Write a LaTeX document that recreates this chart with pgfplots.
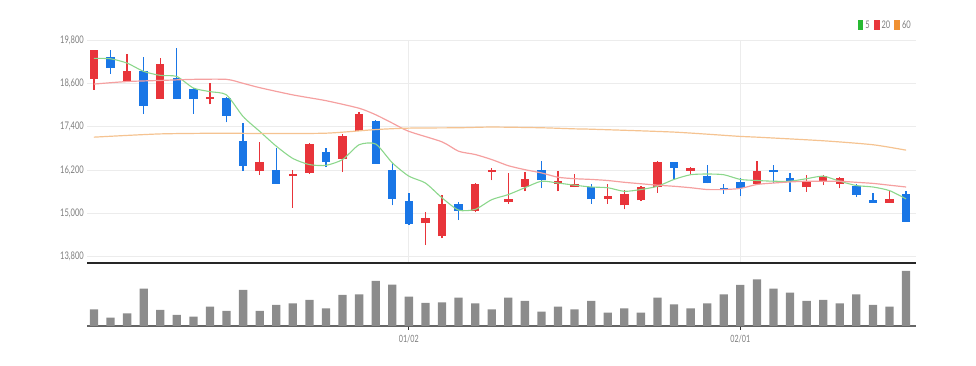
\documentclass[border=0pt]{standalone}
\usepackage{pgfplots}
\usepackage{pgfplotstable}
\pgfplotsset{compat=1.18}
\usepackage{fontspec}
\setmainfont{Lato}
\newfontfamily\labfont[FakeStretch=0.72]{Lato}
\definecolor{upred}{RGB}{232,52,58}
\definecolor{dnblue}{RGB}{25,118,230}
\definecolor{mafive}{RGB}{140,215,140}
\definecolor{matwenty}{RGB}{245,160,160}
\definecolor{masixty}{RGB}{245,195,145}
\definecolor{legfive}{RGB}{40,185,50}
\definecolor{legtwenty}{RGB}{232,55,60}
\definecolor{legsixty}{RGB}{240,145,50}
\definecolor{vol}{RGB}{140,140,140}
\definecolor{ticktxt}{RGB}{125,125,125}
\definecolor{gridc}{RGB}{236,236,236}

\pgfplotstableread{
x o h l c
0 18720 19510 18420 19510
2 18670 19410 18670 18950
4 18160 19290 18160 19140
7 18160 18600 18020 18220
10 16170 16970 16060 16410
12 16030 16210 15150 16100
13 16120 16950 16090 16920
15 16510 17200 16140 17130
16 17270 17800 17270 17760
20 14720 15030 14120 14880
21 14370 15520 14310 15250
23 15060 15840 15030 15800
24 16150 16260 15910 16190
25 15310 16120 15270 15390
26 15730 16150 15610 15960
28 15820 16180 15610 15890
29 15730 16090 15730 15800
31 15410 15800 15270 15470
32 15220 15660 15110 15550
33 15360 15770 15340 15720
34 15720 16440 15570 16420
36 16180 16280 16070 16260
40 15820 16440 15820 16170
43 15720 16070 15600 15860
44 15870 16070 15780 16030
45 15820 16000 15690 15980
48 15290 15660 15290 15390
}\upcandles

\pgfplotstableread{
x o h l c
1 19340 19520 18860 19020
3 18950 19340 17750 17980
5 18740 19570 18160 18160
6 18450 18470 17760 18160
8 18190 18210 17520 17700
9 16990 17500 16170 16320
11 16190 16810 15820 15820
14 16700 16810 16280 16420
17 17550 17590 16380 16380
18 16190 16400 15220 15410
19 15340 15570 14690 14710
22 15250 15310 14810 15060
27 16190 16440 15690 15920
30 15720 15800 15270 15390
35 16420 16420 15940 16260
37 16030 16350 15830 15830
38 15680 15800 15540 15640
39 15870 15980 15480 15710
41 16180 16350 15830 16140
42 15980 16120 15600 15860
46 15750 15800 15450 15520
47 15360 15570 15290 15290
49 15540 15610 14770 14770
}\dncandles

\pgfplotstableread{
x v
0 16.7
1 8.3
2 12.7
3 37.3
4 16
5 11
6 9.3
7 19.3
8 15
9 36
10 15
11 21
12 22.7
13 26
14 17.7
15 31
16 31.7
17 45
18 41.3
19 29.3
20 23
21 23.7
22 28.3
23 22.7
24 16.7
25 28.3
26 25
27 14.3
28 19.3
29 16.7
30 25
31 13.3
32 17.7
33 13.3
34 28.3
35 21.7
36 17.7
37 22.7
38 31.7
39 41
40 46.7
41 37.3
42 33.3
43 25
44 26
45 22.7
46 31.7
47 21
48 19.3
49 55
}\volume

\pgfplotstableread{
x y
0 19290
1 19280
2 19160
3 18930
4 18820
5 18790
6 18470
7 18370
8 18280
9 17680
10 17270
11 16860
12 16520
13 16350
14 16330
15 16490
16 16900
17 16920
18 16400
19 16030
20 15840
21 15430
22 15090
23 15110
24 15380
25 15520
26 15710
27 15890
28 15840
29 15780
30 15730
31 15710
32 15610
33 15660
34 15750
35 15940
36 16070
37 16090
38 16070
39 15940
40 15910
41 15890
42 15890
43 15960
44 16030
45 15890
46 15770
47 15730
48 15630
49 15400
}\mafivetab

\pgfplotstableread{
x y
0 18580
2 18650
4 18680
6 18710
8 18710
9 18600
10 18480
12 18280
14 18120
16 17910
17 17730
18 17500
19 17270
21 16980
22 16720
23 16630
24 16490
25 16320
26 16210
27 16120
28 16000
29 15960
30 15940
31 15910
32 15860
33 15820
34 15780
35 15750
36 15710
37 15660
38 15660
39 15690
40 15800
41 15840
42 15870
43 15890
44 15890
45 15890
46 15860
47 15830
48 15780
49 15730
}\matwentytab

\pgfplotstableread{
x y
0 17110
4 17200
8 17220
10 17210
14 17220
17 17320
19 17360
22 17370
24 17390
27 17370
29 17340
30 17330
35 17250
39 17130
40 17110
44 17010
47 16900
49 16750
}\masixtytab

\begin{document}
\begin{tikzpicture}
\useasboundingbox (0pt,0pt) rectangle (976pt,366pt);
\begin{axis}[
  at={(87pt,103pt)}, anchor=south west,
  scale only axis, width=829pt, height=223pt,
  xmin=-0.42, xmax=49.6,
  ymin=13626, ymax=19800,
  clip=false,
  scaled y ticks=false,
  axis x line*=bottom, axis y line*=left,
  x axis line style={-, line width=1.6pt, black!85},
  y axis line style={draw=none},
  xtick={19,39}, xticklabels={},
  ytick={13800,15000,16200,17400,18600,19800},
  yticklabels={{13,800},{15,000},{16,200},{17,400},{18,600},{19,800}},
  major tick length=0pt,
  xmajorgrids, ymajorgrids,
  grid style={gridc, line width=0.9pt},
  yticklabel style={font=\labfont\fontsize{10.5}{12}\selectfont, text=ticktxt, anchor=east, inner sep=0pt, xshift=-3pt},
  legend columns=3,
  legend style={at={(1,1)}, anchor=east, yshift=15pt, xshift=-3pt, draw=none, fill=none,
    font=\labfont\fontsize{10.5}{12}\selectfont, text=ticktxt, inner sep=0pt,
    /tikz/every even column/.append style={column sep=2pt}},
]
% wicks
\addplot[draw=none, mark=none, forget plot, error bars/.cd, y dir=plus, y explicit, error mark=none,
  error bar style={draw=upred, line width=1.3pt}]
  table[x=x, y=l, y error plus expr={\thisrow{h}-\thisrow{l}}] {\upcandles};
\addplot[draw=none, mark=none, forget plot, error bars/.cd, y dir=plus, y explicit, error mark=none,
  error bar style={draw=dnblue, line width=1.3pt}]
  table[x=x, y=l, y error plus expr={\thisrow{h}-\thisrow{l}}] {\dncandles};
% bodies
\addplot[draw=none, mark=none, forget plot, error bars/.cd, y dir=plus, y explicit, error mark=none,
  error bar style={draw=upred, line width=8.4pt}]
  table[x=x, y expr={min(\thisrow{o},\thisrow{c})}, y error plus expr={max(abs(\thisrow{c}-\thisrow{o}),55)}] {\upcandles};
\addplot[draw=none, mark=none, forget plot, error bars/.cd, y dir=plus, y explicit, error mark=none,
  error bar style={draw=dnblue, line width=8.4pt}]
  table[x=x, y expr={min(\thisrow{o},\thisrow{c})}, y error plus expr={max(abs(\thisrow{c}-\thisrow{o}),55)}] {\dncandles};
% moving averages
\addplot[mafive, line width=1.1pt, smooth, tension=0.4, mark=none,
  legend image code/.code={\fill[legfive] (0pt,-4pt) rectangle (4.5pt,4pt);}]
  table[x=x, y=y] {\mafivetab};
\addlegendentry{5}
\addplot[matwenty, line width=1.2pt, smooth, tension=0.4, mark=none,
  legend image code/.code={\fill[legtwenty] (0pt,-4pt) rectangle (4.5pt,4pt);}]
  table[x=x, y=y] {\matwentytab};
\addlegendentry{20}
\addplot[masixty, line width=1.2pt, smooth, tension=0.4, mark=none,
  legend image code/.code={\fill[legsixty] (0pt,-4pt) rectangle (4.5pt,4pt);}]
  table[x=x, y=y] {\masixtytab};
\addlegendentry{60}
\end{axis}

\begin{axis}[
  at={(87pt,40pt)}, anchor=south west,
  scale only axis, width=829pt, height=63pt,
  xmin=-0.42, xmax=49.6,
  ymin=0, ymax=63,
  axis x line*=bottom, axis y line=none,
  x axis line style={-, line width=1.5pt, black!60},
  xtick={19,39}, xticklabels={01/02,02/01},
  xtick align=outside, major tick length=4pt,
  tick style={black!80, line width=0.9pt},
  ytick=\empty,
  xticklabel style={font=\labfont\fontsize{10}{12}\selectfont, text=ticktxt, anchor=north, inner sep=0pt, yshift=-5pt},
]
\addplot[ybar, bar width=8.3pt, fill=vol, draw=none] table[x=x, y=v] {\volume};
\end{axis}
\end{tikzpicture}
\end{document}
